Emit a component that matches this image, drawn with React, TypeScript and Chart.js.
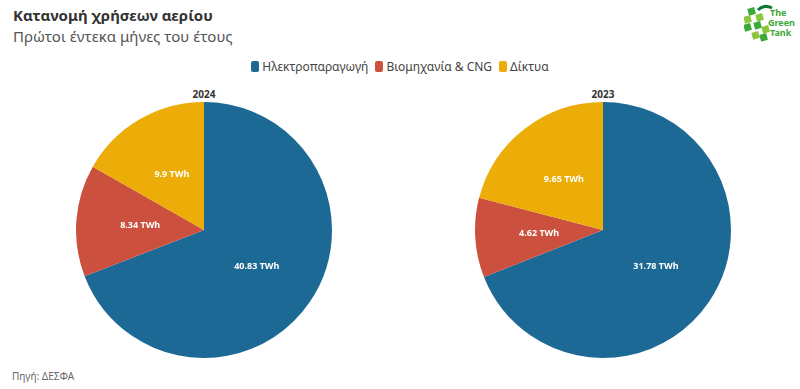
import React, { useEffect, useRef } from "react";
import { Chart, registerables } from "chart.js";

Chart.register(...registerables);

const categories = ["Ηλεκτροπαραγωγή", "Βιομηχανία & CNG", "Δίκτυα"];
const values2024 = [40.83, 8.34, 9.9];
const values2023 = [31.78, 4.62, 9.65];
const colors = ["#1D6996", "#CC503E", "#EDAD08"];
const unit = "TWh";

const FONT = "'Noto Sans', 'Open Sans', sans-serif";

const labelPlugin = {
  id: "sliceLabels",
  afterDatasetsDraw(chart: any) {
    const ctx = chart.ctx;
    const meta = chart.getDatasetMeta(0);
    const data = chart.data.datasets[0].data;
    ctx.save();
    ctx.fillStyle = "#ffffff";
    ctx.font = `bold 9px ${FONT}`;
    ctx.textAlign = "center";
    ctx.textBaseline = "middle";
    meta.data.forEach((arc: any, i: number) => {
      const p = arc.tooltipPosition();
      ctx.fillText(`${data[i]} ${unit}`, p.x, p.y);
    });
    ctx.restore();
  },
};

function Pie({ values, left, year }: { values: number[]; left: number; year: string }) {
  const ref = useRef<HTMLCanvasElement>(null);
  useEffect(() => {
    if (!ref.current) return;
    const chart = new Chart(ref.current, {
      type: "pie",
      data: {
        labels: categories,
        datasets: [
          {
            data: values,
            backgroundColor: colors,
            borderWidth: 0,
          },
        ],
      },
      options: {
        animation: false,
        responsive: false,
        maintainAspectRatio: false,
        layout: { padding: 0 },
        plugins: {
          legend: { display: false },
          tooltip: { enabled: false },
          title: { display: false },
        },
      },
      plugins: [labelPlugin],
    });
    return () => chart.destroy();
  }, []);
  return (
    <>
      <div
        style={{
          position: "absolute",
          left: left,
          width: 256,
          top: 87,
          textAlign: "center",
          fontFamily: FONT,
          fontWeight: 700,
          fontSize: 10,
          color: "#333",
        }}
      >
        {year}
      </div>
      <canvas
        ref={ref}
        width={256}
        height={256}
        style={{ position: "absolute", left: left, top: 102, width: 256, height: 256 }}
      />
    </>
  );
}

function Logo() {
  const squares = [
    [0, 20], [0, 12], [4, 4], [8, 28], [10, 18], [12, 10], [16, 30], [18, 22],
  ];
  return (
    <svg
      width={52}
      height={44}
      style={{ position: "absolute", left: 744, top: 4 }}
      viewBox="0 0 52 44"
    >
      {squares.map((s, i) => (
        <rect key={i} x={s[0]} y={s[1]} width={7} height={7} fill={i % 2 ? "#8cc63f" : "#3aa935"} transform={`rotate(-15 ${s[0] + 3} ${s[1] + 3})`} />
      ))}
      <path d="M 14 6 Q 20 0 28 4" stroke="#0a7a3a" strokeWidth={3} fill="none" />
      <text x={26} y={12} fontFamily={FONT} fontWeight={700} fontSize={9} fill="#3aa935">The</text>
      <text x={24} y={22} fontFamily={FONT} fontWeight={700} fontSize={9} fill="#3aa935">Green</text>
      <text x={26} y={32} fontFamily={FONT} fontWeight={700} fontSize={9} fill="#3aa935">Tank</text>
    </svg>
  );
}

export default function App() {
  return (
    <div
      style={{
        position: "absolute",
        left: 0,
        top: 0,
        width: 800,
        height: 389,
        background: "#ffffff",
        overflow: "hidden",
        fontFamily: FONT,
      }}
    >
      <div style={{ position: "absolute", left: 13, top: 5, fontSize: 15, fontWeight: 700, color: "#333" }}>
        Κατανομή χρήσεων αερίου
      </div>
      <div style={{ position: "absolute", left: 13, top: 26, fontSize: 15, color: "#555" }}>
        Πρώτοι έντεκα μήνες του έτους
      </div>
      <Logo />
      <div
        style={{
          position: "absolute",
          left: 0,
          width: 800,
          top: 58,
          display: "flex",
          justifyContent: "center",
          alignItems: "center",
          fontSize: 12,
          color: "#444",
        }}
      >
        {categories.map((c, i) => (
          <div key={c} style={{ display: "flex", alignItems: "center", marginRight: i < categories.length - 1 ? 7 : 0 }}>
            <span
              style={{
                display: "inline-block",
                width: 8,
                height: 11,
                borderRadius: 2,
                background: colors[i],
                marginRight: 3,
              }}
            />
            <span>{c}</span>
          </div>
        ))}
      </div>
      <Pie values={values2024} left={76} year="2024" />
      <Pie values={values2023} left={475} year="2023" />
      <div style={{ position: "absolute", left: 12, top: 369, fontSize: 10, color: "#666" }}>
        Πηγή: ΔΕΣΦΑ
      </div>
    </div>
  );
}
